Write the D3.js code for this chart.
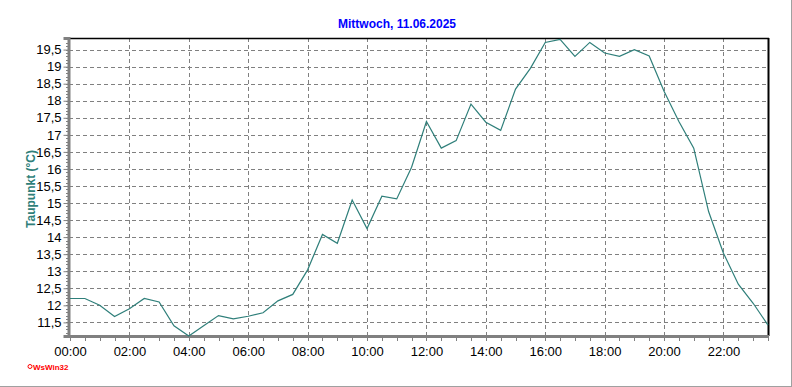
<!DOCTYPE html>
<html>
<head>
<meta charset="utf-8">
<script src="https://cdn.jsdelivr.net/npm/d3@7"></script>
<style>
  body { margin: 0; background: #fff; }
  svg { display: block; }
  text { font-family: "Liberation Sans", Arial, sans-serif; }
</style>
</head>
<body>
<div id="chart"></div>
<script>
// half-hourly readings, hours since midnight
var hours = d3.range(0, 24, 0.5);
var dewPoint = [
    12.2, 12.2, 12.0, 11.67, 11.9, 12.2, 12.1, 11.4,
    11.1, 11.4, 11.7, 11.6, 11.68, 11.78, 12.13, 12.32,
    13.04, 14.08, 13.82, 15.09, 14.25, 15.2, 15.12, 16.05,
    17.39, 16.61, 16.83, 17.9, 17.37, 17.13, 18.34, 18.95,
    19.71, 19.8, 19.3, 19.71, 19.4, 19.3, 19.5, 19.31,
    18.28, 17.39, 16.61, 14.75, 13.53, 12.62, 12.06, 11.42
];
var xTickHours = [0, 2, 4, 6, 8, 10, 12, 14, 16, 18, 20, 22];
var yTickValues = [11.5, 12, 12.5, 13, 13.5, 14, 14.5, 15, 15.5, 16, 16.5, 17, 17.5, 18, 18.5, 19, 19.5];
var yDomain = [11.1, 19.84];
var title = "Mittwoch, 11.06.2025";
var yLabel = "Taupunkt  (°C)";

var width = 792, height = 387;
// plot area edges (not called top/bottom: window.top is read-only)
var plotLeft = 69, plotRight = 768, plotTop = 38, plotBottom = 336;

var svg = d3.select('#chart')
    .append('svg')
    .attr('width', width)
    .attr('height', height);

var x = d3.scaleLinear().domain([0, 23.5]).range([plotLeft + 1, plotRight]);
var y = d3.scaleLinear().domain(yDomain).range([plotBottom, plotTop]);

var fmt = function (v) { return String(v).replace('.', ','); };

// grid
svg.append('g')
    .selectAll('line')
    .data(yTickValues)
    .enter()
    .append('line')
    .attr('x1', plotLeft)
    .attr('x2', plotRight)
    .attr('y1', d => Math.round(y(d)) + 0.5)
    .attr('y2', d => Math.round(y(d)) + 0.5)
    .attr('stroke', '#808080')
    .attr('stroke-dasharray', '4,3');

svg.append('g')
    .selectAll('line')
    .data(xTickHours.slice(1))
    .enter()
    .append('line')
    .attr('x1', d => Math.round(x(d)) + 0.5)
    .attr('x2', d => Math.round(x(d)) + 0.5)
    .attr('y1', plotTop)
    .attr('y2', plotBottom)
    .attr('stroke', '#808080')
    .attr('stroke-dasharray', '4,3');

// frame: top and right black
svg.append('line')
    .attr('x1', plotLeft).attr('x2', plotRight + 1)
    .attr('y1', plotTop + 0.5).attr('y2', plotTop + 0.5)
    .attr('stroke', '#000').attr('stroke-width', 1.5);
svg.append('line')
    .attr('x1', plotRight + 0.5).attr('x2', plotRight + 0.5)
    .attr('y1', plotTop).attr('y2', plotBottom)
    .attr('stroke', '#000').attr('stroke-width', 2);

// y axis
var yAxis = d3.axisLeft(y)
    .tickValues(yTickValues)
    .tickSize(5)
    .tickPadding(2)
    .tickFormat(fmt);
var gy = svg.append('g')
    .attr('transform', 'translate(' + (plotLeft - 0.5) + ',0)')
    .call(yAxis);
gy.select('.domain').attr('stroke', '#808080').attr('stroke-width', 3);
gy.selectAll('.tick line').attr('stroke', '#808080');
gy.selectAll('.tick text')
    .attr('font-size', '13px')
    .attr('fill', '#000')
    .attr('font-family', '"Liberation Sans", Arial, sans-serif');

// y minor ticks
svg.append('g')
    .selectAll('line')
    .data(d3.range(111, 199, 1).map(d => d / 10))
    .enter()
    .append('line')
    .attr('x1', plotLeft - 3)
    .attr('x2', plotLeft)
    .attr('y1', d => Math.round(y(d)) + 0.5)
    .attr('y2', d => Math.round(y(d)) + 0.5)
    .attr('stroke', '#808080');

// x axis
var xAxis = d3.axisBottom(x)
    .tickValues(xTickHours)
    .tickSize(0)
    .tickPadding(11)
    .tickFormat(d => d3.format('02d')(d) + ':00');
var gx = svg.append('g')
    .attr('transform', 'translate(0,' + plotBottom + ')')
    .call(xAxis);
gx.select('.domain').remove();
gx.selectAll('.tick text')
    .attr('font-size', '13px')
    .attr('fill', '#000')
    .attr('font-family', '"Liberation Sans", Arial, sans-serif');

svg.append('line')
    .attr('x1', plotLeft - 2).attr('x2', plotRight + 1)
    .attr('y1', plotBottom + 0.5).attr('y2', plotBottom + 0.5)
    .attr('stroke', '#808080').attr('stroke-width', 3);

// x minor ticks every half hour
svg.append('g')
    .selectAll('line')
    .data(hours)
    .enter()
    .append('line')
    .attr('x1', d => Math.round(x(d)) + 0.5)
    .attr('x2', d => Math.round(x(d)) + 0.5)
    .attr('y1', plotBottom)
    .attr('y2', plotBottom + 5)
    .attr('stroke', '#808080');

// the line
var line = d3.line()
    .x((d, i) => x(hours[i]))
    .y(d => y(d));

svg.append('path')
    .datum(dewPoint)
    .attr('d', line)
    .attr('fill', 'none')
    .attr('stroke', '#2f7f7a')
    .attr('stroke-width', 1.2);

// title
svg.append('text')
    .attr('x', 397)
    .attr('y', 28)
    .attr('text-anchor', 'middle')
    .attr('font-size', '12px')
    .attr('font-weight', 'bold')
    .attr('fill', '#0000ff')
    .text(title);

// y label
svg.append('text')
    .attr('transform', 'translate(35,189) rotate(-90)')
    .attr('text-anchor', 'middle')
    .attr('font-size', '12px')
    .attr('font-weight', 'bold')
    .attr('fill', '#2f7f7a')
    .text(yLabel);

// logo
svg.append('circle')
    .attr('cx', 30).attr('cy', 366.5).attr('r', 2)
    .attr('fill', 'none').attr('stroke', '#ff0000');
svg.append('text')
    .attr('x', 33)
    .attr('y', 370)
    .attr('font-size', '8px')
    .attr('font-weight', 'bold')
    .attr('fill', '#ff0000')
    .text('WsWin32');

// window border
svg.append('line')
    .attr('x1', 0).attr('x2', width)
    .attr('y1', height - 0.5).attr('y2', height - 0.5)
    .attr('stroke', '#a0a0a0');
svg.append('line')
    .attr('x1', width - 0.5).attr('x2', width - 0.5)
    .attr('y1', 0).attr('y2', height)
    .attr('stroke', '#a0a0a0');
</script>
</body>
</html>
